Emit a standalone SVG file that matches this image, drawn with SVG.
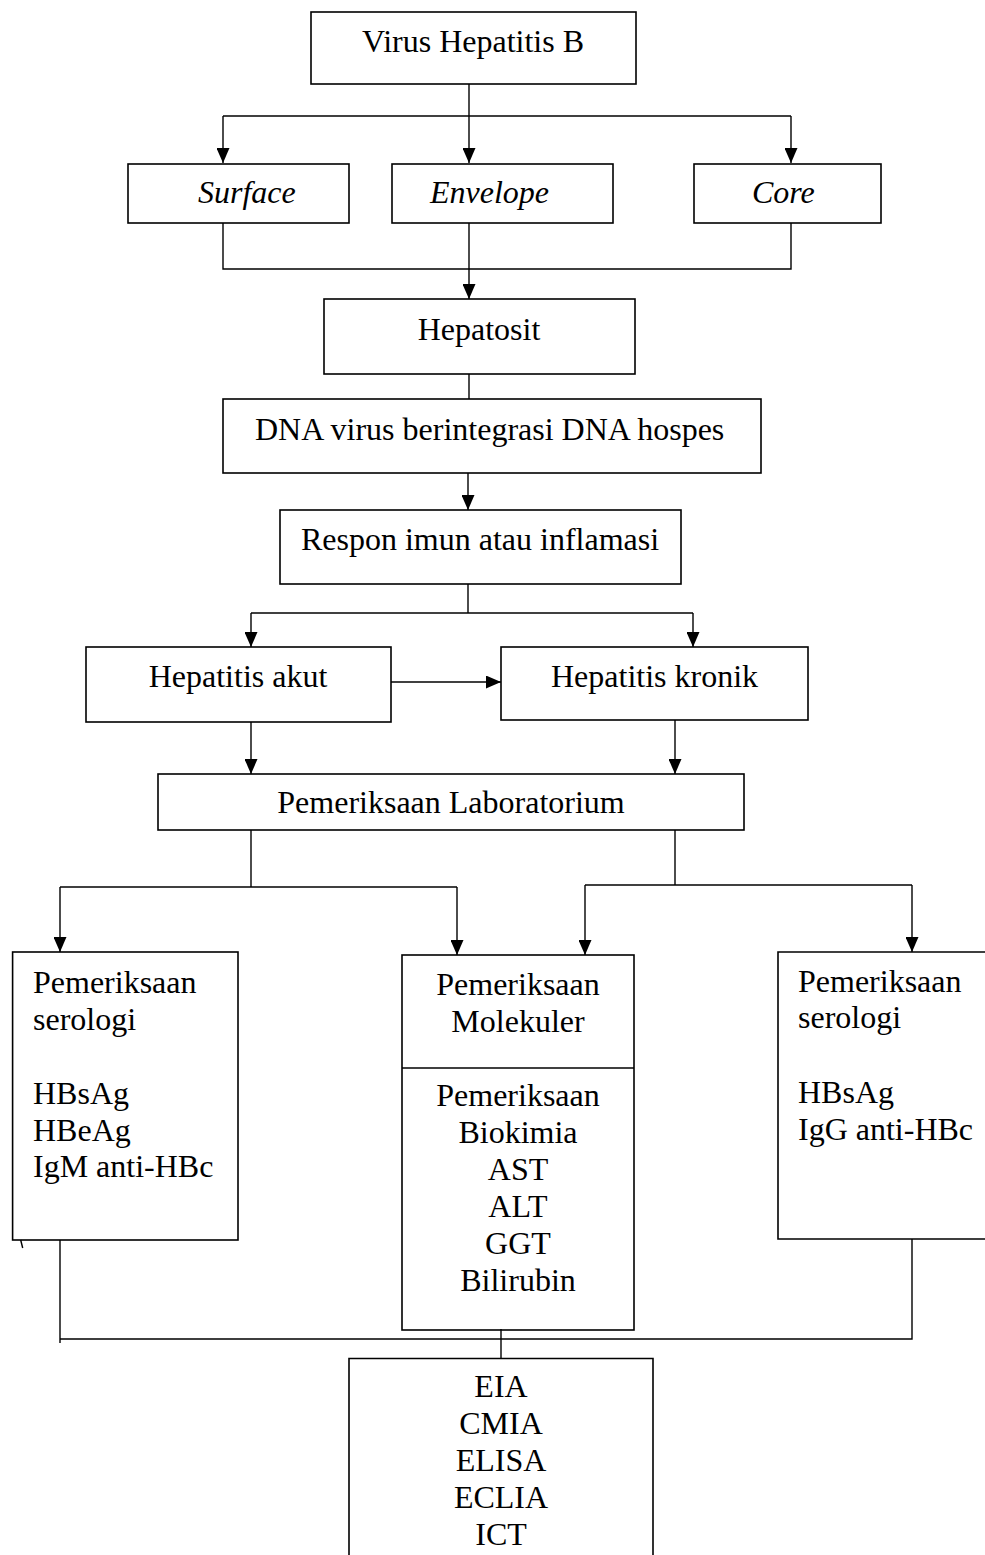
<svg xmlns="http://www.w3.org/2000/svg" width="985" height="1555" viewBox="0 0 985 1555">
<style>
.box{fill:none;stroke:#000;stroke-width:1.6}
.ln{fill:none;stroke:#000;stroke-width:1.4}
text{font-family:"Liberation Serif","Times New Roman",serif;font-size:32px;fill:#000}
.c{text-anchor:middle}
.i{font-style:italic}
</style>
<defs>
<marker id="ah" markerUnits="userSpaceOnUse" markerWidth="15" markerHeight="13" viewBox="0 0 15 13" refX="15" refY="6.5" orient="auto">
<path d="M0,0 L15,6.5 L0,13 z" fill="#000"/>
</marker>
</defs>
<rect width="985" height="1555" fill="#fff"/>
<g id="connectors">
<path class="ln" d="M469,84 V163" marker-end="url(#ah)"/>
<path class="ln" d="M223,116 H791"/>
<path class="ln" d="M223,116 V163" marker-end="url(#ah)"/>
<path class="ln" d="M791,116 V163" marker-end="url(#ah)"/>
<path class="ln" d="M223,223 V269 H791 V223"/>
<path class="ln" d="M469,223 V299" marker-end="url(#ah)"/>
<path class="ln" d="M469,374 V399"/>
<path class="ln" d="M468,473 V510" marker-end="url(#ah)"/>
<path class="ln" d="M468,584 V613"/>
<path class="ln" d="M251,613 H693"/>
<path class="ln" d="M251,613 V647" marker-end="url(#ah)"/>
<path class="ln" d="M693,613 V647" marker-end="url(#ah)"/>
<path class="ln" d="M391,682 H501" marker-end="url(#ah)"/>
<path class="ln" d="M251,722 V774" marker-end="url(#ah)"/>
<path class="ln" d="M675,720 V774" marker-end="url(#ah)"/>
<path class="ln" d="M251,830 V887"/>
<path class="ln" d="M60,887 H457"/>
<path class="ln" d="M60,887 V952" marker-end="url(#ah)"/>
<path class="ln" d="M457,887 V955" marker-end="url(#ah)"/>
<path class="ln" d="M675,830 V885"/>
<path class="ln" d="M585,885 H912"/>
<path class="ln" d="M585,885 V955" marker-end="url(#ah)"/>
<path class="ln" d="M912,885 V952" marker-end="url(#ah)"/>
<path class="ln" d="M60,1240 V1343"/>
<path class="ln" d="M60,1339 H912 V1239"/>
<path class="ln" d="M501,1329 V1358"/>
<path class="ln" d="M20.7,1240 L22.7,1248" stroke-width="1"/>
</g>
<g id="virus">
<rect class="box" x="311" y="12" width="325" height="72"/>
<text class="c" x="473" y="52">Virus Hepatitis B</text>
</g>
<g id="surface">
<rect class="box" x="128" y="164" width="221" height="59"/>
<text class="i" x="198" y="203">Surface</text>
</g>
<g id="envelope">
<rect class="box" x="392" y="164" width="221" height="59"/>
<text class="i" x="430" y="203">Envelope</text>
</g>
<g id="core">
<rect class="box" x="694" y="164" width="187" height="59"/>
<text class="i" x="752" y="203">Core</text>
</g>
<g id="hepatosit">
<rect class="box" x="324" y="299" width="311" height="75"/>
<text class="c" x="479" y="340">Hepatosit</text>
</g>
<g id="dna">
<rect class="box" x="223" y="399" width="538" height="74"/>
<text x="255" y="440">DNA virus berintegrasi DNA hospes</text>
</g>
<g id="respon">
<rect class="box" x="280" y="510" width="401" height="74"/>
<text class="c" x="480" y="550">Respon imun atau inflamasi</text>
</g>
<g id="akut">
<rect class="box" x="86" y="647" width="305" height="75"/>
<text class="c" x="238" y="687">Hepatitis akut</text>
</g>
<g id="kronik">
<rect class="box" x="501" y="647" width="307" height="73"/>
<text x="551" y="687">Hepatitis kronik</text>
</g>
<g id="lab">
<rect class="box" x="158" y="774" width="586" height="56"/>
<text class="c" x="451" y="813">Pemeriksaan Laboratorium</text>
</g>
<g id="serologi-akut">
<rect class="box" x="12.6" y="952" width="225.4" height="288"/>
<text x="33" y="993">Pemeriksaan</text>
<text x="33" y="1030">serologi</text>
<text x="33" y="1104">HBsAg</text>
<text x="33" y="1141">HBeAg</text>
<text x="33" y="1177">IgM anti-HBc</text>
</g>
<g id="molekuler">
<rect class="box" x="402" y="955" width="232" height="375"/>
<path class="box" d="M402,1068 H634"/>
<text class="c" x="518" y="995">Pemeriksaan</text>
<text class="c" x="518" y="1032">Molekuler</text>
<text class="c" x="518" y="1106">Pemeriksaan</text>
<text class="c" x="518" y="1143">Biokimia</text>
<text class="c" x="518" y="1180">AST</text>
<text class="c" x="518" y="1217">ALT</text>
<text class="c" x="518" y="1254">GGT</text>
<text class="c" x="518" y="1291">Bilirubin</text>
</g>
<g id="serologi-kronik">
<path class="box" d="M995,952 H778 V1239 H995"/>
<text x="798" y="992">Pemeriksaan</text>
<text x="798" y="1028">serologi</text>
<text x="798" y="1103">HBsAg</text>
<text x="798" y="1140">IgG anti-HBc</text>
</g>
<g id="metode">
<path class="box" d="M349,1565 V1358.5 H653 V1565"/>
<text class="c" x="501" y="1397">EIA</text>
<text class="c" x="501" y="1434">CMIA</text>
<text class="c" x="501" y="1471">ELISA</text>
<text class="c" x="501" y="1508">ECLIA</text>
<text class="c" x="501" y="1545">ICT</text>
</g>
</svg>
